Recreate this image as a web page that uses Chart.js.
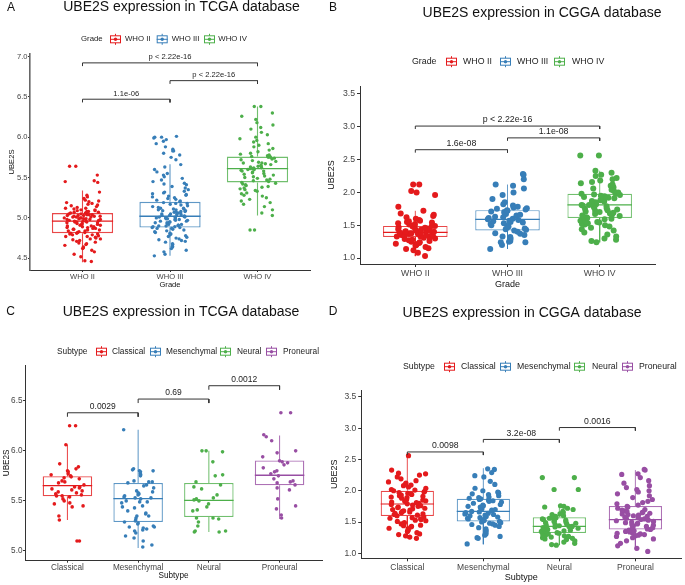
<!DOCTYPE html>
<html>
<head>
<meta charset="utf-8">
<script src="https://cdn.jsdelivr.net/npm/chart.js@4.4.1/dist/chart.umd.min.js"></script>
<style>
html, body { margin: 0; padding: 0; background: #fff; }
#wrap { position: relative; width: 685px; height: 585px; overflow: hidden; }
canvas { position: absolute; }
</style>
</head>
<body>
<div id="wrap">
  <canvas id="panelA"></canvas>
  <canvas id="panelB"></canvas>
  <canvas id="panelC"></canvas>
  <canvas id="panelD"></canvas>
</div>
<script>
// ---- categories and colours ----
const gradeNames = ['WHO II', 'WHO III', 'WHO IV'];
const subtypeNames = ['Classical', 'Mesenchymal', 'Neural', 'Proneural'];
const gradeColors = ['#E41A1C', '#377EB8', '#4DAF4A'];
const subtypeColors = ['#E41A1C', '#377EB8', '#4DAF4A', '#984EA3'];

// ---- A: TCGA, by grade ----
const tcgaGradeQ1 = [4.81, 4.88, 5.44];
const tcgaGradeMedian = [4.96, 5.02, 5.61];
const tcgaGradeQ3 = [5.06, 5.20, 5.76];
const tcgaGradeLow = [4.45, 4.53, 5.03];
const tcgaGradeHigh = [5.34, 5.665, 6.38];
const tcgaWHO2 = [4.46, 4.47, 4.52, 4.55, 4.58, 4.60, 4.62, 4.63, 4.64, 4.66, 4.67, 4.68, 4.69, 4.70, 4.71, 4.72, 4.73, 4.74, 4.74, 4.75, 4.76, 4.77, 4.77, 4.78, 4.79, 4.79, 4.80, 4.80, 4.81, 4.81,
  4.82, 4.82, 4.83, 4.84, 4.84, 4.85, 4.85, 4.86, 4.86, 4.87, 4.87, 4.88, 4.88, 4.89, 4.89, 4.90, 4.90, 4.91, 4.91, 4.92, 4.92, 4.93, 4.93, 4.94, 4.94, 4.95, 4.95, 4.95, 4.96, 4.96,
  4.96, 4.97, 4.97, 4.97, 4.98, 4.98, 4.98, 4.99, 4.99, 4.99, 5.00, 5.00, 5.00, 5.01, 5.01, 5.01, 5.02, 5.02, 5.02, 5.03, 5.03, 5.03, 5.04, 5.04, 5.04, 5.05, 5.05, 5.05, 5.06, 5.06,
  5.07, 5.07, 5.08, 5.08, 5.09, 5.09, 5.10, 5.10, 5.11, 5.12, 5.12, 5.13, 5.14, 5.15, 5.16, 5.17, 5.18, 5.19, 5.20, 5.21, 5.22, 5.24, 5.26, 5.28, 5.32, 5.44, 5.45, 5.46, 5.53, 5.64, 5.64];
const tcgaWHO3 = [4.53, 4.55, 4.58, 4.60, 4.62, 4.64, 4.65, 4.67, 4.68, 4.70, 4.71, 4.72, 4.73, 4.74, 4.75, 4.76, 4.77, 4.78, 4.79, 4.80, 4.81, 4.82, 4.83, 4.84, 4.85, 4.86, 4.87, 4.87, 4.88, 4.88,
  4.89, 4.89, 4.90, 4.90, 4.91, 4.91, 4.92, 4.92, 4.93, 4.93, 4.94, 4.94, 4.95, 4.95, 4.96, 4.96, 4.97, 4.97, 4.98, 4.98, 4.99, 4.99, 5.00, 5.00, 5.00, 5.01, 5.01, 5.01, 5.02, 5.02,
  5.02, 5.03, 5.03, 5.04, 5.04, 5.05, 5.05, 5.06, 5.06, 5.07, 5.07, 5.08, 5.08, 5.09, 5.09, 5.10, 5.10, 5.11, 5.11, 5.12, 5.12, 5.13, 5.14, 5.15, 5.16, 5.17, 5.18, 5.18, 5.19, 5.20,
  5.21, 5.22, 5.23, 5.24, 5.25, 5.26, 5.27, 5.28, 5.29, 5.30, 5.31, 5.32, 5.33, 5.35, 5.37, 5.39, 5.41, 5.42, 5.43, 5.45, 5.47, 5.49, 5.51, 5.53, 5.55, 5.57, 5.60, 5.63, 5.66,
  5.72, 5.75, 5.78, 5.80, 5.83, 5.83, 5.85, 5.88, 5.92, 5.95, 5.97, 5.99, 6.00, 6.00, 6.01];
const tcgaWHO4 = [4.85, 4.85, 5.03, 5.06, 5.10, 5.14, 5.17, 5.19, 5.21, 5.23, 5.25, 5.27, 5.28, 5.30, 5.31, 5.33, 5.34, 5.35, 5.36, 5.37, 5.38, 5.39, 5.40, 5.41, 5.42, 5.43, 5.44,
  5.45, 5.46, 5.47, 5.48, 5.49, 5.50, 5.51, 5.52, 5.53, 5.54, 5.55, 5.56, 5.57, 5.58, 5.58, 5.59, 5.60, 5.60, 5.61, 5.61,
  5.62, 5.62, 5.63, 5.64, 5.64, 5.65, 5.66, 5.67, 5.68, 5.68, 5.69, 5.70, 5.71, 5.72, 5.73, 5.74, 5.75, 5.75, 5.76, 5.76,
  5.77, 5.78, 5.79, 5.80, 5.82, 5.84, 5.86, 5.88, 5.90, 5.92, 5.94, 5.96, 5.98, 6.00, 6.03, 6.06, 6.10, 6.12, 6.15, 6.18, 6.22, 6.26, 6.30, 6.38, 6.38];
const tcgaGradePairs = [[1, 2], [2, 3], [1, 3]];
const tcgaGradeP = ['1.1e-06', 'p < 2.22e-16', 'p < 2.22e-16'];
const tcgaGradeBracketY = [6.47, 6.70, 6.92];
const tcgaGradeYTicks = [4.5, 5.0, 5.5, 6.0, 6.5, 7.0];

// ---- B: CGGA, by grade ----
const cggaGradeQ1 = [1.32, 1.42, 1.61];
const cggaGradeMedian = [1.39, 1.59, 1.81];
const cggaGradeQ3 = [1.49, 1.73, 1.98];
const cggaGradeLow = [1.03, 1.14, 1.24];
const cggaGradeHigh = [1.72, 2.12, 2.33];
const cggaWHO2 = [1.03, 1.08, 1.12, 1.14, 1.15, 1.17, 1.19, 1.20, 1.21, 1.22, 1.23, 1.24, 1.25, 1.26, 1.27, 1.28, 1.29, 1.30, 1.31, 1.32,
  1.32, 1.33, 1.33, 1.34, 1.34, 1.35, 1.35, 1.36, 1.36, 1.37, 1.37, 1.38, 1.38, 1.39, 1.39,
  1.39, 1.40, 1.40, 1.41, 1.42, 1.42, 1.43, 1.44, 1.44, 1.45, 1.46, 1.47, 1.48, 1.49, 1.49,
  1.50, 1.51, 1.52, 1.53, 1.54, 1.55, 1.56, 1.57, 1.58, 1.60, 1.62, 1.64, 1.66, 1.68, 1.72, 1.78, 1.96, 2.00, 2.02, 2.12, 2.12];
const cggaWHO3 = [1.14, 1.20, 1.24, 1.24, 1.25, 1.26, 1.28, 1.30, 1.32, 1.33, 1.35, 1.37, 1.38, 1.40, 1.42,
  1.43, 1.44, 1.45, 1.47, 1.48, 1.49, 1.50, 1.52, 1.53, 1.54, 1.55, 1.56, 1.57, 1.58, 1.59,
  1.60, 1.61, 1.62, 1.63, 1.64, 1.65, 1.66, 1.67, 1.68, 1.69, 1.70, 1.71, 1.72, 1.73,
  1.74, 1.75, 1.76, 1.77, 1.78, 1.80, 1.82, 1.85, 1.90, 1.96, 2.00, 2.06, 2.10, 2.12, 2.20, 2.27, 2.28];
const cggaWHO4 = [1.24, 1.26, 1.28, 1.30, 1.33, 1.36, 1.39, 1.42, 1.44, 1.46, 1.48, 1.50, 1.51, 1.52, 1.53, 1.54, 1.55, 1.56, 1.57, 1.58, 1.59, 1.60, 1.61,
  1.62, 1.63, 1.64, 1.65, 1.66, 1.67, 1.68, 1.69, 1.70, 1.71, 1.72, 1.73, 1.74, 1.75, 1.76, 1.77, 1.78, 1.79, 1.80, 1.81, 1.81,
  1.82, 1.83, 1.84, 1.85, 1.86, 1.87, 1.88, 1.89, 1.90, 1.91, 1.92, 1.93, 1.94, 1.95, 1.96, 1.97, 1.98, 1.98,
  2.00, 2.02, 2.04, 2.06, 2.08, 2.10, 2.12, 2.14, 2.16, 2.18, 2.20, 2.22, 2.25, 2.27, 2.30, 2.33, 2.56, 2.56];
const cggaGradePairs = [[1, 2], [2, 3], [1, 3]];
const cggaGradeP = ['1.6e-08', '1.1e-08', 'p < 2.22e-16'];
const cggaGradeBracketY = [2.65, 2.83, 3.01];
const cggaYTicks = [1.0, 1.5, 2.0, 2.5, 3.0, 3.5];

// ---- C: TCGA, by subtype ----
const tcgaSubQ1 = [5.546, 5.29, 5.34, 5.656];
const tcgaSubMedian = [5.653, 5.523, 5.506, 5.756];
const tcgaSubQ3 = [5.746, 5.68, 5.68, 5.903];
const tcgaSubLow = [5.31, 5.03, 5.19, 5.32];
const tcgaSubHigh = [6.06, 6.21, 6.00, 6.153];
const tcgaClassical = [6.25, 6.25, 6.06, 5.87, 5.84, 5.82, 5.80, 5.79, 5.77, 5.76, 5.75, 5.74, 5.73, 5.72, 5.70, 5.69, 5.68, 5.66, 5.64, 5.64,
  5.63, 5.62, 5.61, 5.60, 5.59, 5.58, 5.57, 5.56, 5.55, 5.55, 5.54, 5.52, 5.50, 5.48, 5.47, 5.44, 5.45, 5.35, 5.31, 5.10, 5.10];
const tcgaMesenchymal = [6.21, 5.82, 5.81, 5.80, 5.80, 5.79, 5.77, 5.76, 5.75, 5.70, 5.69, 5.69, 5.68, 5.66, 5.65, 5.63, 5.60, 5.59, 5.58, 5.57,
  5.56, 5.55, 5.54, 5.53, 5.53, 5.52, 5.50, 5.49, 5.49, 5.48, 5.45, 5.44, 5.43, 5.40, 5.38, 5.37, 5.35, 5.35, 5.33, 5.31,
  5.30, 5.29, 5.28, 5.27, 5.25, 5.24, 5.24, 5.23, 5.22, 5.21, 5.20, 5.18, 5.15, 5.13, 5.10, 5.06, 5.04];
const tcgaNeural = [6.00, 6.00, 5.99, 5.89, 5.76, 5.75, 5.69, 5.66, 5.64, 5.62, 5.56, 5.53, 5.52, 5.51, 5.50, 5.47, 5.44, 5.41, 5.40, 5.33,
  5.33, 5.32, 5.29, 5.25, 5.20, 5.20, 5.19, 5.19];
const tcgaProneural = [6.38, 6.38, 6.16, 6.14, 6.10, 6.00, 5.98, 5.94, 5.90, 5.89, 5.88, 5.86, 5.83, 5.80, 5.79, 5.77, 5.75, 5.72, 5.70, 5.69,
  5.68, 5.66, 5.63, 5.61, 5.52, 5.45, 5.42, 5.36, 5.33];
const tcgaSubPairs = [[1, 2], [2, 3], [3, 4]];
const tcgaSubP = ['0.0029', '0.69', '0.0012'];
const tcgaSubBracketY = [6.38, 6.517, 6.65];
const tcgaSubYTicks = [5.0, 5.5, 6.0, 6.5];

// ---- D: CGGA, by subtype ----
const cggaSubQ1 = [1.596, 1.51, 1.324, 1.38];
const cggaSubMedian = [1.788, 1.67, 1.43, 1.537];
const cggaSubQ3 = [2.00, 1.87, 1.575, 1.755];
const cggaSubLow = [1.24, 1.144, 1.13, 1.05];
const cggaSubHigh = [2.555, 2.36, 1.77, 2.33];
const cggaClassical = [1.24, 1.26, 1.28, 1.30, 1.31, 1.33, 1.35, 1.37, 1.39, 1.40, 1.42, 1.43, 1.44, 1.45, 1.47, 1.49, 1.51, 1.52, 1.53, 1.54, 1.55, 1.56, 1.57, 1.58, 1.60,
  1.61, 1.62, 1.63, 1.64, 1.65, 1.66, 1.67, 1.68, 1.69, 1.70, 1.71, 1.72, 1.73, 1.74, 1.75, 1.76, 1.77, 1.78, 1.79,
  1.80, 1.81, 1.82, 1.83, 1.84, 1.85, 1.86, 1.88, 1.89, 1.90, 1.91, 1.92, 1.93, 1.94, 1.95, 1.96, 1.97, 1.98, 1.99, 2.00,
  2.01, 2.02, 2.04, 2.06, 2.08, 2.09, 2.10, 2.12, 2.14, 2.16, 2.19, 2.22, 2.25, 2.27, 2.28, 2.33, 2.56];
const cggaMesenchymal = [1.15, 1.24, 1.25, 1.27, 1.29, 1.31, 1.33, 1.36, 1.39, 1.41, 1.43, 1.45, 1.46, 1.47, 1.48, 1.49, 1.50, 1.51,
  1.52, 1.53, 1.54, 1.55, 1.56, 1.57, 1.58, 1.59, 1.60, 1.61, 1.62, 1.63, 1.64, 1.65, 1.66, 1.67,
  1.68, 1.69, 1.70, 1.71, 1.72, 1.73, 1.74, 1.75, 1.76, 1.77, 1.78, 1.80, 1.82, 1.83, 1.84, 1.85, 1.86, 1.87,
  1.88, 1.89, 1.90, 1.92, 1.94, 1.95, 1.96, 1.97, 1.98, 2.00, 2.04, 2.10, 2.15, 2.22, 2.24, 2.29, 2.34, 2.35];
const cggaNeural = [1.13, 1.14, 1.16, 1.18, 1.20, 1.22, 1.23, 1.24, 1.25, 1.26, 1.27, 1.28, 1.29, 1.30, 1.31, 1.32,
  1.33, 1.34, 1.35, 1.36, 1.36, 1.37, 1.38, 1.39, 1.39, 1.40, 1.41, 1.42, 1.42, 1.43, 1.43,
  1.44, 1.45, 1.46, 1.47, 1.48, 1.49, 1.50, 1.51, 1.52, 1.53, 1.54, 1.55, 1.56, 1.57, 1.57,
  1.58, 1.59, 1.60, 1.62, 1.63, 1.65, 1.67, 1.70, 1.72, 1.74, 1.75, 1.76, 2.02, 2.02, 2.21, 2.21];
const cggaProneural = [1.03, 1.08, 1.12, 1.16, 1.20, 1.23, 1.25, 1.27, 1.28, 1.29, 1.30, 1.31, 1.32, 1.33, 1.34, 1.35, 1.36, 1.37, 1.38,
  1.39, 1.40, 1.41, 1.42, 1.43, 1.44, 1.45, 1.46, 1.47, 1.48, 1.49, 1.50, 1.51, 1.52, 1.53, 1.54,
  1.55, 1.56, 1.57, 1.58, 1.59, 1.60, 1.61, 1.62, 1.63, 1.64, 1.65, 1.66, 1.67, 1.68, 1.69, 1.70, 1.72, 1.74, 1.75,
  1.77, 1.79, 1.81, 1.83, 1.86, 1.89, 1.92, 1.95, 1.98, 2.00, 2.02, 2.05, 2.08, 2.12, 2.16, 2.21, 2.26, 2.27, 2.33, 2.34];
const cggaSubPairs = [[1, 2], [2, 3], [3, 4]];
const cggaSubP = ['0.0098', '3.2e-08', '0.0016'];
const cggaSubBracketY = [2.62, 2.82, 3.01];

Chart.defaults.font.family = "'Liberation Sans', Arial, sans-serif";

function withAlpha(hex, a) {
  const n = parseInt(hex.slice(1), 16);
  return 'rgba(' + (n >> 16) + ',' + ((n >> 8) & 255) + ',' + (n & 255) + ',' + a + ')';
}

// horizontal spread of the jittered points (x position only, repeatable)
function jitter(i, g, w) {
  const s = Math.sin((i + 1) * 12.9898 + (g + 1) * 78.233) * 43758.5453;
  return ((s - Math.floor(s)) - 0.5) * 2 * w;
}

function legendIcon(ctx, x, y, color, w) {
  ctx.strokeStyle = color;
  ctx.lineWidth = 1;
  ctx.beginPath();
  ctx.moveTo(x + w / 2, y - 5.5);
  ctx.lineTo(x + w / 2, y + 5.5);
  ctx.stroke();
  ctx.fillStyle = '#fff';
  ctx.fillRect(x, y - 3.5, w, 7);
  ctx.strokeRect(x + 0.5, y - 3.5, w - 1, 7);
  ctx.beginPath();
  ctx.moveTo(x, y);
  ctx.lineTo(x + w, y);
  ctx.stroke();
  ctx.fillStyle = color;
  ctx.beginPath();
  ctx.arc(x + w / 2, y, 1.7, 0, Math.PI * 2);
  ctx.fill();
}

const extrasPlugin = {
  id: 'extras',
  afterDraw(chart) {
    const p = chart.options.plugins.extras;
    const ctx = chart.ctx;
    const ox = p.canvas.x, oy = p.canvas.y;
    ctx.save();
    ctx.textBaseline = 'middle';
    // panel letter and title
    ctx.fillStyle = '#111';
    ctx.textAlign = 'center';
    ctx.font = "12px 'Liberation Sans', Arial, sans-serif";
    ctx.fillText(p.letter, p.letterPos[0] - ox, p.letterPos[1] - oy);
    ctx.font = "14px 'Liberation Sans', Arial, sans-serif";
    ctx.fillText(p.title, p.titlePos[0] - ox, p.titlePos[1] - oy);
    // legend
    const lg = p.legend;
    ctx.font = lg.font + "px 'Liberation Sans', Arial, sans-serif";
    ctx.textAlign = 'left';
    ctx.fillStyle = '#222';
    ctx.fillText(lg.title, lg.titleX - ox, lg.y - oy);
    p.cats.forEach((c, i) => {
      legendIcon(ctx, lg.iconX[i] - ox, lg.y - oy, p.colors[i], 11);
      ctx.fillStyle = '#222';
      ctx.fillText(c, lg.textX[i] - ox, lg.y - oy);
    });
    // p-value labels
    const xs = chart.scales.x, ys = chart.scales.y;
    ctx.textAlign = 'center';
    ctx.fillStyle = '#222';
    ctx.font = p.pFont + "px 'Liberation Sans', Arial, sans-serif";
    p.pairs.forEach((pr, k) => {
      const px = xs.getPixelForValue((pr[0] + pr[1]) / 2);
      const py = ys.getPixelForValue(p.bracketY[k]) - p.pOffset;
      ctx.fillText(p.pLabels[k], px, py);
    });
    ctx.restore();
  }
};

function makePanel(p) {
  const cv = document.getElementById(p.id);
  cv.width = p.canvas.w;
  cv.height = p.canvas.h;
  cv.style.width = p.canvas.w + 'px';
  cv.style.height = p.canvas.h + 'px';
  cv.style.left = p.canvas.x + 'px';
  cv.style.top = p.canvas.y + 'px';
  const n = p.cats.length;
  const datasets = [];

  datasets.push({
    type: 'bar',
    data: p.cats.map((c, i) => ({ x: i + 1, y: [p.q1[i], p.q3[i]] })),
    backgroundColor: 'rgba(255,255,255,1)',
    borderColor: p.colors.map(c => withAlpha(c, 0.8)),
    borderWidth: p.boxLw,
    borderSkipped: false,
    barPercentage: 0.7,
    categoryPercentage: 1,
    order: 5
  });

  p.cats.forEach((c, i) => {
    const x = i + 1;
    datasets.push({
      type: 'line',
      data: [{ x: x, y: p.q3[i] }, { x: x, y: p.high[i] }, { x: x, y: null }, { x: x, y: p.q1[i] }, { x: x, y: p.low[i] }],
      borderColor: withAlpha(p.colors[i], 0.8),
      borderWidth: p.boxLw * 0.8,
      pointRadius: 0,
      spanGaps: false,
      order: 4
    });
    datasets.push({
      type: 'line',
      data: [{ x: x - 0.35, y: p.med[i] }, { x: x + 0.35, y: p.med[i] }],
      borderColor: p.colors[i],
      borderWidth: p.boxLw,
      pointRadius: 0,
      order: 4
    });
    datasets.push({
      type: 'scatter',
      data: p.points[i].map((v, j) => ({ x: x + jitter(j, i, p.jit), y: v })),
      backgroundColor: p.colors[i],
      borderWidth: 0,
      pointRadius: p.r,
      order: 2
    });
  });

  p.pairs.forEach((pr, k) => {
    const y = p.bracketY[k], d = p.drop;
    datasets.push({
      type: 'line',
      data: [{ x: pr[0], y: y - d }, { x: pr[0], y: y }, { x: pr[1], y: y }, { x: pr[1], y: y - d }],
      borderColor: '#333',
      borderWidth: 1,
      pointRadius: 0,
      order: 1
    });
  });

  const a = p.area;
  const yWidth = a.l - p.canvas.x;
  const xHeight = p.canvas.y + p.canvas.h - a.b;

  return new Chart(cv, {
    type: 'bar',
    data: { datasets: datasets },
    plugins: [extrasPlugin],
    options: {
      responsive: false,
      animation: false,
      events: [],
      layout: { padding: { left: 0, top: a.t - p.canvas.y, right: p.canvas.x + p.canvas.w - a.r, bottom: 0 } },
      plugins: {
        legend: { display: false },
        tooltip: { enabled: false },
        extras: p
      },
      scales: {
        x: {
          type: 'linear',
          offset: false,
          min: 0.4,
          max: n + 0.6,
          afterBuildTicks: s => { s.ticks = p.cats.map((c, i) => ({ value: i + 1 })); },
          afterFit: s => { s.height = xHeight; },
          ticks: {
            callback: v => p.cats[Math.round(v) - 1],
            font: { size: p.tickFont },
            color: '#444',
            padding: p.xPad,
            maxRotation: 0,
            autoSkip: false
          },
          grid: { display: true, offset: false, drawOnChartArea: false, drawTicks: true, tickLength: p.xTl, color: '#333' },
          border: { display: true, color: '#333', width: 1 },
          title: { display: true, text: p.xTitle, font: { size: p.axisFont }, color: '#111', padding: { top: 0, bottom: p.xTitlePb } }
        },
        y: {
          type: 'linear',
          min: p.yMin,
          max: p.yMax,
          afterBuildTicks: s => { s.ticks = p.yTicks.map(v => ({ value: v })); },
          afterFit: s => { s.width = yWidth; },
          ticks: {
            callback: v => v.toFixed(1),
            font: { size: p.tickFont },
            color: '#444',
            padding: p.yPad
          },
          grid: { display: true, drawOnChartArea: false, drawTicks: true, tickLength: p.yTl, color: '#333' },
          border: { display: true, color: p.yAxisColor, width: p.yAxisLw },
          title: { display: true, text: 'UBE2S', font: { size: p.axisFont }, color: '#111', padding: { top: p.yTitlePt, bottom: 0 } }
        }
      }
    }
  });
}

makePanel({
  id: 'panelA', canvas: { x: 0, y: 0, w: 342, h: 292 }, area: { l: 30, t: 54, r: 310, b: 270 },
  cats: gradeNames, colors: gradeColors,
  q1: tcgaGradeQ1, med: tcgaGradeMedian, q3: tcgaGradeQ3, low: tcgaGradeLow, high: tcgaGradeHigh,
  points: [tcgaWHO2, tcgaWHO3, tcgaWHO4],
  pairs: tcgaGradePairs, pLabels: tcgaGradeP, bracketY: tcgaGradeBracketY, drop: 0.04, pFont: 7.6, pOffset: 5.5,
  yMin: 4.355, yMax: 7.03, yTicks: tcgaGradeYTicks,
  letter: 'A', letterPos: [11, 8], title: 'UBE2S expression in TCGA database', titlePos: [181.5, 7.5],
  legend: { title: 'Grade', titleX: 81, y: 39.3, font: 7.8, iconX: [110, 156.7, 204], textX: [125, 171.7, 218.3] },
  xTitle: 'Grade', tickFont: 7.6, axisFont: 7.6, xTl: 2, xPad: 0.5, xTitlePb: 2.4, yTl: 2, yPad: 0.5, yTitlePt: 7.4,
  yAxisColor: '#666', yAxisLw: 1.6,
  boxLw: 1.4, r: 1.7, jit: 0.21
});

makePanel({
  id: 'panelB', canvas: { x: 322, y: 0, w: 363, h: 292 }, area: { l: 360, t: 86, r: 655, b: 264 },
  cats: gradeNames, colors: gradeColors,
  q1: cggaGradeQ1, med: cggaGradeMedian, q3: cggaGradeQ3, low: cggaGradeLow, high: cggaGradeHigh,
  points: [cggaWHO2, cggaWHO3, cggaWHO4],
  pairs: cggaGradePairs, pLabels: cggaGradeP, bracketY: cggaGradeBracketY, drop: 0.045, pFont: 8.8, pOffset: 6,
  yMin: 0.91, yMax: 3.62, yTicks: cggaYTicks,
  letter: 'B', letterPos: [333, 8], title: 'UBE2S expression in CGGA database', titlePos: [542, 13],
  legend: { title: 'Grade', titleX: 412, y: 61.7, font: 8.8, iconX: [446, 500, 554], textX: [463, 517, 572] },
  xTitle: 'Grade', tickFont: 8.7, axisFont: 9, xTl: 3, xPad: 1, xTitlePb: 1.6, yTl: 3, yPad: 2, yTitlePt: 4.6,
  yAxisColor: '#333', yAxisLw: 1,
  boxLw: 1.2, r: 3, jit: 0.22
});

makePanel({
  id: 'panelC', canvas: { x: 0, y: 292, w: 342, h: 293 }, area: { l: 25, t: 365, r: 322, b: 560.7 },
  cats: subtypeNames, colors: subtypeColors,
  q1: tcgaSubQ1, med: tcgaSubMedian, q3: tcgaSubQ3, low: tcgaSubLow, high: tcgaSubHigh,
  points: [tcgaClassical, tcgaMesenchymal, tcgaNeural, tcgaProneural],
  pairs: tcgaSubPairs, pLabels: tcgaSubP, bracketY: tcgaSubBracketY, drop: 0.04, pFont: 8.5, pOffset: 6,
  yMin: 4.903, yMax: 6.857, yTicks: tcgaSubYTicks,
  letter: 'C', letterPos: [10.5, 312], title: 'UBE2S expression in TCGA database', titlePos: [181, 312],
  legend: { title: 'Subtype', titleX: 57, y: 351.7, font: 8.3, iconX: [96, 150, 220, 266], textX: [112, 166, 237, 283] },
  xTitle: 'Subtype', tickFont: 8.2, axisFont: 8.2, xTl: 2, xPad: 0, xTitlePb: 4.5, yTl: 2, yPad: 0.5, yTitlePt: 2.2,
  yAxisColor: '#333', yAxisLw: 1,
  boxLw: 1.3, r: 1.8, jit: 0.24
});

makePanel({
  id: 'panelD', canvas: { x: 322, y: 292, w: 363, h: 293 }, area: { l: 361.7, t: 390, r: 682, b: 558.3 },
  cats: subtypeNames, colors: subtypeColors,
  q1: cggaSubQ1, med: cggaSubMedian, q3: cggaSubQ3, low: cggaSubLow, high: cggaSubHigh,
  points: [cggaClassical, cggaMesenchymal, cggaNeural, cggaProneural],
  pairs: cggaSubPairs, pLabels: cggaSubP, bracketY: cggaSubBracketY, drop: 0.05, pFont: 8.7, pOffset: 6,
  yMin: 0.92, yMax: 3.61, yTicks: cggaYTicks,
  letter: 'D', letterPos: [333, 312], title: 'UBE2S expression in CGGA database', titlePos: [522, 312.7],
  legend: { title: 'Subtype', titleX: 403, y: 366.7, font: 8.7, iconX: [444, 500, 574, 622], textX: [461, 517, 592, 639] },
  xTitle: 'Subtype', tickFont: 8.5, axisFont: 9, xTl: 3, xPad: 1, xTitlePb: 1.6, yTl: 3.5, yPad: 2, yTitlePt: 7.6,
  yAxisColor: '#333', yAxisLw: 1,
  boxLw: 1.2, r: 2.6, jit: 0.25
});
</script>
</body>
</html>
